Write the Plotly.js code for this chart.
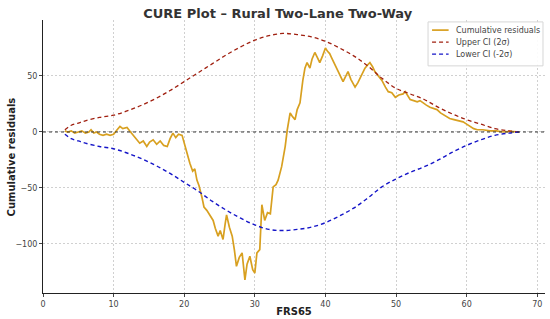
<!DOCTYPE html>
<html>
<head>
<meta charset="utf-8">
<script src="https://cdn.plot.ly/plotly-3.0.1.min.js"></script>
<style>
  html, body { margin: 0; padding: 0; background: #fff; }
  #cure-plot { width: 550px; height: 319px; }
</style>
</head>
<body>
<div id="cure-plot"></div>
<script>
// cumulative residuals
const resX = [3.1, 3.5, 4.0, 4.5, 5.0, 5.5, 6.0, 6.5, 6.8, 7.2, 7.6, 8.0, 8.5, 9.0, 9.5, 10.0,
  10.5, 10.9, 11.3, 11.9, 12.4, 12.9, 13.3, 13.7, 14.2, 14.7, 15.1, 15.6, 16.1, 16.6, 17.1, 17.6,
  18.0, 18.4, 18.8, 19.2, 19.7, 20.1, 20.5, 20.8, 21.2, 21.5, 21.8, 22.1, 22.5, 22.8, 23.2, 23.6,
  24.1, 24.4, 24.8, 25.1, 25.5, 25.8, 26.0, 26.4, 26.8, 27.1, 27.4, 27.8, 28.2, 28.6, 28.9, 29.3,
  29.7, 30.0, 30.3, 30.7, 31.0, 31.4, 31.8, 32.2, 32.6, 33.0, 33.3, 33.8, 34.3, 34.6, 35.0, 35.3,
  35.7, 36.0, 36.4, 36.8, 37.1, 37.4, 37.8, 38.1, 38.5, 38.9, 39.2, 39.6, 40.0, 40.3, 40.6, 40.9,
  41.2, 41.6, 42.0, 42.5, 42.9, 43.2, 43.6, 44.2, 44.6, 44.9, 45.3, 45.6, 46.0, 46.3, 46.7, 47.0,
  47.5, 48.0, 48.5, 48.9, 49.4, 49.9, 50.4, 51.0, 51.3, 51.7, 52.0, 52.5, 53.0, 53.4, 53.8, 54.3,
  54.8, 55.3, 55.8, 56.3, 56.8, 57.2, 57.6, 58.2, 58.8, 59.5, 60.0, 60.5, 61.0, 61.5, 62.3, 63.3,
  64.2, 65.2, 66.2, 67.5];
const resY = [1, 0, 1, -1, 0, 1, -1, 0, 2, -1, 0, -2, -3, -2, -3, -2,
  2, 5, 3, 4, 0, -4, -7, -10, -8, -13, -9, -7, -11, -8, -12, -13,
  -6, -1, -5, -2, -3, -13, -22, -28, -35, -33, -43, -48, -58, -67, -70, -74,
  -79, -86, -93, -88, -96, -82, -74, -85, -93, -105, -120, -112, -108, -132, -118, -111,
  -123, -126, -108, -105, -65, -79, -72, -73, -49, -47, -43, -31, -13, 2, 17, 14,
  11, 20, 26, 46, 57, 62, 57, 65, 71, 66, 62, 68, 75, 72, 70, 66,
  62, 57, 52, 45, 50, 54, 47, 40, 44, 48, 52, 57, 60, 62, 58, 54,
  50, 46, 40, 36, 35, 31, 33, 34, 36, 32, 29, 28, 27, 28, 26, 24,
  22, 21, 20, 17, 15, 13, 12, 11, 10, 9, 7, 5, 3, 2, 2, 1,
  1, 0, 0.5, 0];

// confidence band (+/- 2 sigma)
const ciX = [3.1, 4, 5, 6, 8, 10, 12, 14, 16, 18, 20, 22, 24, 26, 28, 30, 32, 34,
  36, 38, 40, 42, 44, 46, 48, 50, 52, 54, 56, 58, 60, 62, 64, 66, 67.5];
const upperCI = [2, 6, 8, 10, 13, 15, 19, 24, 30, 37, 45, 53, 61, 69, 76, 82, 86, 88,
  87, 85, 81, 75, 68, 59, 48, 39, 34, 29, 22, 16, 11, 7, 3, 1, 0];
const lowerCI = [-2, -6, -8, -10, -13, -15, -19, -24, -30, -37, -45, -53, -62, -70, -77, -83, -87, -88,
  -87, -85, -81, -75, -68, -59, -49, -42, -36, -31, -25, -18, -12, -7, -3, -1, 0];

const xTicks = [0, 10, 20, 30, 40, 50, 60, 70];
const yTicks = [-100, -50, 0, 50];

const seriesNames = ['Cumulative residuals', 'Upper CI (2σ)', 'Lower CI (-2σ)'];
const seriesColors = ['#d8a020', '#a02010', '#1515c8'];

const data = [
  {
    x: resX, y: resY, type: 'scatter', mode: 'lines',
    name: seriesNames[0],
    line: {color: seriesColors[0], width: 1.7}
  },
  {
    x: ciX, y: upperCI, type: 'scatter', mode: 'lines',
    name: seriesNames[1], line: {color: seriesColors[1], width: 1.3, dash: '4px,3px', shape: 'spline'}
  },
  {
    x: ciX, y: lowerCI, type: 'scatter', mode: 'lines',
    name: seriesNames[2], line: {color: seriesColors[2], width: 1.4, dash: '4px,3px', shape: 'spline'}
  }
];

const axisFont = {family: 'DejaVu Sans', size: 8, color: '#444'};

// legend drawn by hand, matplotlib style (compact box, top right)
const legendRows = [0.963, 0.919, 0.875];
const legendShapes = [{
  type: 'rect', xref: 'paper', yref: 'paper', x0: 0.767, x1: 0.996, y0: 0.832, y1: 0.993,
  fillcolor: 'rgba(255,255,255,0.9)', line: {color: '#d6d6d6', width: 1}, layer: 'above'
}];
const notes = [];
seriesNames.forEach((name, i) => {
  legendShapes.push({
    type: 'line', xref: 'paper', yref: 'paper', x0: 0.775, x1: 0.808,
    y0: legendRows[i], y1: legendRows[i], layer: 'above',
    line: {color: seriesColors[i], width: i === 0 ? 1.7 : 1.4, dash: i === 0 ? 'solid' : '4px,3px'}
  });
  notes.push({
    xref: 'paper', yref: 'paper', x: 0.819, y: legendRows[i], xanchor: 'left', yanchor: 'middle',
    text: name, showarrow: false, font: {family: 'DejaVu Sans', size: 8, color: '#444'}
  });
});

// y title as an annotation so it sits where matplotlib puts it
notes.push({
  xref: 'paper', yref: 'paper', x: -0.062, y: 0.5, xanchor: 'center', yanchor: 'middle',
  textangle: -90, showarrow: false,
  text: '<b>Cumulative residuals</b>', font: {family: 'DejaVu Sans', size: 10, color: '#222'}
});

const layout = {
  width: 550,
  height: 319,
  paper_bgcolor: '#fff',
  plot_bgcolor: '#fff',
  margin: {l: 43, r: 5, t: 20, b: 26},
  font: {family: 'DejaVu Sans', color: '#222'},
  title: {
    text: '<b>CURE Plot – Rural Two-Lane Two-Way</b>',
    font: {family: 'DejaVu Sans', size: 13, color: '#333'},
    xref: 'container', x: 0.505, xanchor: 'center',
    yref: 'container', y: 0.958, yanchor: 'middle'
  },
  xaxis: {
    range: [0, 71.1],
    tickvals: xTicks,
    tickfont: axisFont,
    ticks: 'outside', ticklen: 3, tickcolor: '#444',
    showline: true, linecolor: '#222', linewidth: 1,
    showgrid: true, gridcolor: '#c4c4c4', griddash: '2px,2px', gridwidth: 0.8,
    zeroline: false,
    title: {text: '<b>FRS65</b>', font: {family: 'DejaVu Sans', size: 10, color: '#222'}, standoff: 0}
  },
  yaxis: {
    range: [-143.8, 100],
    tickvals: yTicks,
    ticktext: ['−100', '−50', '0', '50'],
    tickfont: axisFont,
    ticks: 'outside', ticklen: 3, tickcolor: '#444',
    showline: true, linecolor: '#222', linewidth: 1,
    showgrid: true, gridcolor: '#c4c4c4', griddash: '2px,2px', gridwidth: 0.8,
    zeroline: false
  },
  shapes: [{
    type: 'line', xref: 'paper', yref: 'y', x0: 0, x1: 1, y0: 0, y1: 0,
    line: {color: '#333', width: 1, dash: 'dot'}
  }].concat(legendShapes),
  annotations: notes,
  showlegend: false
};

Plotly.newPlot('cure-plot', data, layout, {displayModeBar: false, staticPlot: true});
</script>
</body>
</html>
